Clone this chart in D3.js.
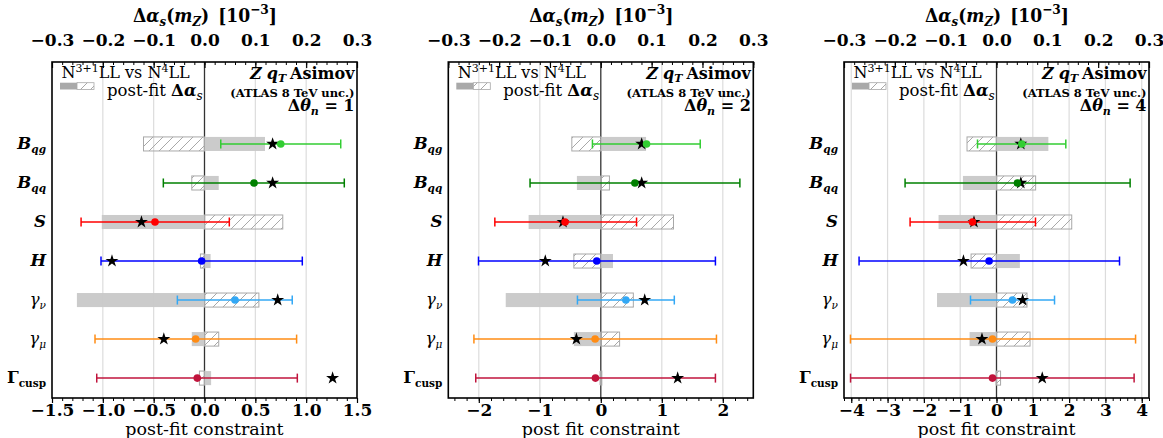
<!DOCTYPE html>
<html><head><meta charset="utf-8">
<script src="https://cdn.jsdelivr.net/npm/d3@7"></script>
<style>
body{margin:0;background:#fff}
svg text{font-family:"DejaVu Serif","Liberation Serif",serif;fill:#000}
</style>
</head><body>
<svg id="c" width="1163" height="438"></svg>
<script>
// ---------------- data ----------------
const params = ["Bqg","Bqq","S","H","gnu","gmu","Gcusp"];
const paramColors = ["#32CD32","#008000","#FF0000","#0000FF","#33A8F5","#FF8C14","#C0143C"];
const deltaTheta = [1, 2, 4];
const bottomTitles = ["post-fit constraint", "post fit constraint", "post fit constraint"];
const topTicks = [-0.3, -0.2, -0.1, 0.0, 0.1, 0.2, 0.3];
const bottomTicks1 = [-1.5, -1.0, -0.5, 0.0, 0.5, 1.0, 1.5];
const bottomTicks2 = [-2, -1, 0, 1, 2];
const bottomTicks3 = [-4, -3, -2, -1, 0, 1, 2, 3, 4];
// star markers (same in all panels)
const starPull = [0.67, 0.67, -0.62, -0.91, 0.72, -0.40, 1.26];

// panel 1: Δθn = 1
const pull1   = [0.75, 0.487, -0.487, -0.028, 0.30, -0.087, -0.071];
const errLo1  = [0.16, -0.405, -1.214, -1.018, -0.267, -1.077, -1.06];
const errHi1  = [1.34, 1.375, 0.244, 0.962, 0.863, 0.906, 0.913];
const solid1  = [0.119, 0.028, -0.202, 0.012, -0.251, -0.025, 0.013];   // Δα_s [1e-3]
const hatch1  = [-0.120, -0.025, 0.154, -0.008, 0.107, 0.028, -0.010];

// panel 2: Δθn = 2
const pull2   = [0.75, 0.559, -0.586, -0.066, 0.411, -0.093, -0.088];
const errLo2  = [-0.137, -1.16, -1.737, -2.005, -0.383, -2.08, -2.05];
const errHi2  = [1.63, 2.28, 0.586, 1.879, 1.205, 1.896, 1.879];
const solid2  = [0.089, -0.047, -0.142, 0.024, -0.187, -0.053, -0.003];
const hatch2  = [-0.057, 0.017, 0.143, -0.053, 0.064, 0.037, 0.002];

// panel 3: Δθn = 4
const pull3   = [0.697, 0.578, -0.661, -0.204, 0.44, -0.11, -0.11];
const errLo3  = [-0.523, -2.518, -2.38, -3.785, -0.716, -4.022, -4.02];
const errHi3  = [1.909, 3.68, 1.074, 3.388, 1.598, 3.83, 3.79];
const solid3  = [0.102, -0.066, -0.114, 0.046, -0.117, -0.053, -0.003];
const hatch3  = [-0.058, 0.077, 0.148, -0.050, 0.060, 0.066, 0.008];

const panels = [
  {pull: pull1, lo: errLo1, hi: errHi1, solid: solid1, hatch: hatch1, ticks: bottomTicks1, dom: [-1.5, 1.5], minor: 0.1, fmt: ".1f"},
  {pull: pull2, lo: errLo2, hi: errHi2, solid: solid2, hatch: hatch2, ticks: bottomTicks2, dom: [-2.5, 2.5], minor: 0.2, fmt: "d"},
  {pull: pull3, lo: errLo3, hi: errHi3, solid: solid3, hatch: hatch3, ticks: bottomTicks3, dom: [-4.2, 4.2], minor: 0.2, fmt: "d"}
];

// ---------------- layout ----------------
const svg = d3.select("#c");
const lefts = [52, 448.3, 844];
const W = 305, pTop = 62, pBot = 398;
const y = d3.scaleLinear().domain([-2.1, 6.51]).range([pTop, pBot]);
const barH = y(0.18) - y(-0.18);

const defs = svg.append("defs");
const pat = defs.append("pattern").attr("id", "hatch").attr("patternUnits", "userSpaceOnUse")
  .attr("width", 10).attr("height", 10);
pat.append("path").attr("d", "M0,10 L10,0 M-2,2 L2,-2 M8,12 L12,8")
  .attr("stroke", "#a8a8a8").attr("stroke-width", 1);

function addLabel(g, key, x, yy) {
  const t = g.append("text").attr("x", x).attr("y", yy).attr("text-anchor", "end")
    .style("font-size", "16.5px");
  const sub = (s, it, w) => t.append("tspan").attr("dy", 4).style("font-size", "10.5px")
      .style("font-style", it ? "italic" : "normal").style("font-weight", w).text(s);
  if (key === "Bqg" || key === "Bqq") {
    t.append("tspan").style("font-style", "italic").style("font-weight", "bold").text("B");
    sub(key.slice(1), true, "bold");
  } else if (key === "S" || key === "H") {
    t.append("tspan").style("font-style", "italic").style("font-weight", "bold").text(key);
  } else if (key === "gnu" || key === "gmu") {
    t.append("tspan").style("font-style", "italic").text("γ");
    sub(key === "gnu" ? "ν" : "μ", true, "normal");
  } else {
    t.append("tspan").style("font-weight", "bold").text("Γ");
    sub("cusp", false, "bold");
  }
}

panels.forEach((p, k) => {
  const L = lefts[k], R = L + W;
  const x = d3.scaleLinear().domain(p.dom).range([L, R]);
  const xa = d3.scaleLinear().domain([-0.3, 0.3]).range([L, R]);
  const g = svg.append("g");

  // gridlines
  g.selectAll(".grid").data(p.ticks.filter(v => v !== 0 && v > p.dom[0] && v < p.dom[1]))
    .enter().append("line")
    .attr("x1", d => x(d)).attr("x2", d => x(d)).attr("y1", pTop).attr("y2", pBot)
    .attr("stroke", "#dcdcdc").attr("stroke-width", 1.2);
  // zero line
  g.append("line").attr("x1", x(0)).attr("x2", x(0)).attr("y1", pTop).attr("y2", pBot)
    .attr("stroke", "#333").attr("stroke-width", 1.3);

  // Δα_s bars (top axis units)
  g.selectAll(".solid").data(p.solid).enter().append("rect")
    .attr("x", d => Math.min(xa(0), xa(d))).attr("width", d => Math.abs(xa(d) - xa(0)))
    .attr("y", (d, i) => y(i) - barH / 2).attr("height", barH)
    .attr("fill", "#c8c8c8").attr("fill-opacity", 0.95);
  g.selectAll(".hatch").data(p.hatch).enter().append("rect")
    .attr("x", d => Math.min(xa(0), xa(d))).attr("width", d => Math.abs(xa(d) - xa(0)))
    .attr("y", (d, i) => y(i) - barH / 2).attr("height", barH)
    .attr("fill", "url(#hatch)").attr("stroke", "#a8a8a8").attr("stroke-width", 1);

  // error bars
  params.forEach((key, i) => {
    const c = paramColors[i], yy = y(i);
    g.append("line").attr("x1", x(p.lo[i])).attr("x2", x(p.hi[i])).attr("y1", yy).attr("y2", yy)
      .attr("stroke", c).attr("stroke-width", 1.5);
    [p.lo[i], p.hi[i]].forEach(v => g.append("line").attr("x1", x(v)).attr("x2", x(v))
      .attr("y1", yy - 4.5).attr("y2", yy + 4.5).attr("stroke", c).attr("stroke-width", 1.5));
  });
  // stars
  g.selectAll(".star").data(starPull).enter().append("path")
    .attr("d", d3.symbol().type(d3.symbolStar).size(52))
    .attr("transform", (d, i) => `translate(${x(d)},${y(i)})`).attr("fill", "#000");
  // dots
  g.selectAll(".dot").data(p.pull).enter().append("circle")
    .attr("cx", d => x(d)).attr("cy", (d, i) => y(i)).attr("r", 3.8)
    .attr("fill", (d, i) => paramColors[i]);

  // y labels
  params.forEach((key, i) => addLabel(g, key, L - 6, y(i) + 5));

  // frame
  g.append("rect").attr("x", L).attr("y", pTop).attr("width", W).attr("height", pBot - pTop)
    .attr("fill", "none").attr("stroke", "#000").attr("stroke-width", 1.6);

  // bottom axis
  const bMinor = d3.range(Math.ceil(p.dom[0] / p.minor - 1e-9), Math.floor(p.dom[1] / p.minor + 1e-9) + 1)
    .map(v => +(v * p.minor).toFixed(3));
  g.append("g").attr("transform", `translate(0,${pBot})`)
    .call(d3.axisBottom(x).tickValues(bMinor).tickSize(3).tickFormat(""))
    .call(a => a.select(".domain").remove())
    .call(a => a.selectAll("text").remove())
    .call(a => a.selectAll("line").attr("stroke", "#000").attr("stroke-width", 1));
  g.append("g").attr("transform", `translate(0,${pBot})`)
    .call(d3.axisBottom(x).tickValues(p.ticks).tickSize(5).tickPadding(1).tickFormat(d3.format(p.fmt)))
    .call(a => a.select(".domain").remove())
    .call(a => a.selectAll("line").attr("stroke", "#000").attr("stroke-width", 1.2))
    .call(a => a.selectAll("text").style("font-family", "DejaVu Serif").style("font-weight", "bold")
      .style("font-size", "17px").attr("fill", "#000"));
  g.append("text").attr("x", (L + R) / 2).attr("y", 434.5).attr("text-anchor", "middle")
    .style("font-size", "17.5px").text(bottomTitles[k]);

  // top axis
  const tMinor = d3.range(-15, 16).map(v => +(v * 0.02).toFixed(3));
  g.append("g").attr("transform", `translate(0,${pTop})`)
    .call(d3.axisTop(xa).tickValues(tMinor).tickSize(-3).tickFormat(""))
    .call(a => a.select(".domain").remove())
    .call(a => a.selectAll("text").remove())
    .call(a => a.selectAll("line").attr("stroke", "#000").attr("stroke-width", 1));
  g.append("g").attr("transform", `translate(0,${pTop})`)
    .call(d3.axisTop(xa).tickValues(topTicks).tickSize(-6).tickPadding(16).tickFormat(d3.format(".1f")))
    .call(a => a.select(".domain").remove())
    .call(a => a.selectAll("line").attr("stroke", "#000").attr("stroke-width", 1.2))
    .call(a => a.selectAll("text").style("font-family", "DejaVu Serif").style("font-weight", "bold")
      .style("font-size", "17px").attr("fill", "#000"));

  // top title Δα_s(m_Z) [10^-3]
  const tt = g.append("text").attr("x", L + 81).attr("y", 22).attr("text-anchor", "start")
    .attr("textLength", 144).attr("lengthAdjust", "spacingAndGlyphs")
    .style("font-size", "19px").style("font-weight", "bold");
  tt.append("tspan").text("Δ");
  tt.append("tspan").style("font-style", "italic").text("α");
  tt.append("tspan").attr("dy", 4).style("font-size", "13px").style("font-style", "italic").text("s");
  tt.append("tspan").attr("dy", -4).text("(");
  tt.append("tspan").style("font-style", "italic").text("m");
  tt.append("tspan").attr("dy", 4).style("font-size", "13px").style("font-style", "italic").text("Z");
  tt.append("tspan").attr("dy", -4).text(")");
  tt.append("tspan").attr("dx", 10).text("[10");
  tt.append("tspan").attr("dy", -8).style("font-size", "13.5px").text("−3");
  tt.append("tspan").attr("dy", 8).text("]");

  // in-plot annotations
  const n = g.append("text").attr("x", L + 9.5).attr("y", pTop + 16).style("font-size", "16px");
  n.append("tspan").text("N");
  n.append("tspan").attr("dy", -6).style("font-size", "11px").text("3+1");
  n.append("tspan").attr("dy", 6).text("LL vs N");
  n.append("tspan").attr("dy", -6).style("font-size", "11px").text("4");
  n.append("tspan").attr("dy", 6).text("LL");

  g.append("rect").attr("x", L + 8).attr("y", pTop + 20.7).attr("width", 17).attr("height", 6.8)
    .attr("fill", "#a9a9a9");
  g.append("rect").attr("x", L + 25).attr("y", pTop + 20.7).attr("width", 17).attr("height", 6.8)
    .attr("fill", "url(#hatch)").attr("stroke", "#a9a9a9").attr("stroke-width", 0.8);
  const pf = g.append("text").attr("x", L + 55).attr("y", pTop + 33.5).style("font-size", "16.5px");
  pf.append("tspan").text("post-fit ");
  pf.append("tspan").style("font-weight", "bold").text("Δ");
  pf.append("tspan").style("font-weight", "bold").style("font-style", "italic").text("α");
  pf.append("tspan").attr("dy", 4).style("font-size", "12px").style("font-style", "italic").text("s");

  const z = g.append("text").attr("x", R - 2.5).attr("y", pTop + 17).attr("text-anchor", "end")
    .style("font-size", "16px").style("font-weight", "bold");
  z.append("tspan").style("font-style", "italic").text("Z");
  z.append("tspan").attr("dx", 5).style("font-style", "italic").text("q");
  z.append("tspan").attr("dy", 3).style("font-size", "11px").style("font-style", "italic").text("T");
  z.append("tspan").attr("dy", -3).attr("dx", 4).text("Asimov");

  g.append("text").attr("x", R - 2.5).attr("y", pTop + 34.5).attr("text-anchor", "end")
    .style("font-size", "11.5px").style("font-weight", "bold").text("(ATLAS 8 TeV unc.)");

  const th = g.append("text").attr("x", R - 2.5).attr("y", pTop + 49).attr("text-anchor", "end")
    .style("font-size", "16px").style("font-weight", "bold");
  th.append("tspan").text("Δ");
  th.append("tspan").style("font-style", "italic").text("θ");
  th.append("tspan").attr("dy", 4).style("font-size", "11px").style("font-style", "italic").text("n");
  th.append("tspan").attr("dy", -4).text(" = " + deltaTheta[k]);
});
</script>
</body></html>
